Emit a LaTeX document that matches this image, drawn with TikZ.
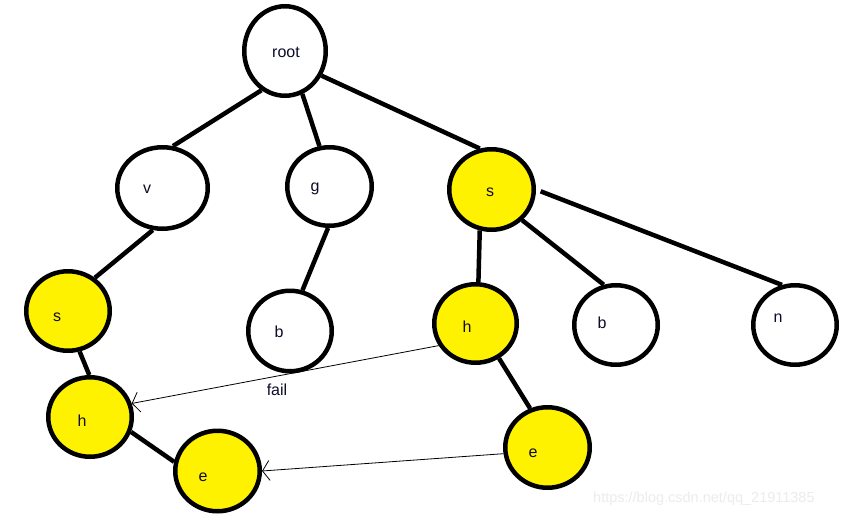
\documentclass[tikz,border=0pt]{standalone}
\usepackage{fontspec}
\setmainfont{Liberation Sans}
\usetikzlibrary{shapes.geometric,arrows.meta}
\definecolor{pyellow}{RGB}{255,242,0}
\definecolor{txt}{RGB}{12,12,40}
\definecolor{wm}{RGB}{236,236,236}
\tikzset{
  tnode/.style={ellipse,draw=black,line width=4.5pt,inner sep=0pt,fill=white},
  hit/.style={fill=pyellow},
  lbl/.style={inner sep=0pt,text=txt,font=\fontsize{16}{18}\selectfont},
  edge/.style={line width=4.5pt,line cap=butt},
  failarrow/.style={line width=0.8pt,-{Straight Barb[length=7pt,width=20pt,line width=0.8pt]}}
}
\begin{document}
\begin{tikzpicture}[x=1pt,y=-1pt]
\useasboundingbox (0,0) rectangle (846,517);
\fill[white] (0,0) rectangle (846,517);
% nodes
\node[tnode,minimum width=81.5pt,minimum height=89.5pt] (root) at (285,51) {};
\node[tnode,minimum width=90.5pt,minimum height=81.5pt] (v) at (162.5,188) {};
\node[tnode,minimum width=84.5pt,minimum height=78.5pt] (g) at (329.5,186.5) {};
\node[tnode,hit,minimum width=84.5pt,minimum height=80.5pt] (sR) at (491.5,189.5) {};
\node[tnode,hit,minimum width=83.5pt,minimum height=79.5pt] (sL) at (68,311) {};
\node[tnode,minimum width=83.5pt,minimum height=80.5pt] (b1) at (290,331) {};
\node[tnode,hit,minimum width=82.5pt,minimum height=78.5pt] (hR) at (475.5,323.5) {};
\node[tnode,minimum width=83.5pt,minimum height=79.5pt] (b2) at (616,325) {};
\node[tnode,minimum width=83.5pt,minimum height=79.5pt] (n) at (795,325) {};
\node[tnode,hit,minimum width=83.5pt,minimum height=79.5pt] (hL) at (90,417) {};
\node[tnode,hit,minimum width=84.5pt,minimum height=80.5pt] (eL) at (217.5,471) {};
\node[tnode,hit,minimum width=84.5pt,minimum height=80.5pt] (eR) at (547.5,447.5) {};
% labels
\node[lbl] (lroot) at (286,52) {root};
\node[lbl] (lv) at (147,189) {v};
\node[lbl] (lg) at (315,189) {g};
\node[lbl] (lsR) at (490,192) {s};
\node[lbl] (lsL) at (57,317) {s};
\node[lbl] (lb1) at (279,332) {b};
\node[lbl] (lhR) at (467,327) {h};
\node[lbl] (lb2) at (602,323) {b};
\node[lbl] (ln) at (778,318) {n};
\node[lbl] (lhL) at (82,421) {h};
\node[lbl] (leL) at (203,477) {e};
\node[lbl] (leR) at (533,453) {e};
\node[lbl] (lfail) at (277,390) {fail};
% tree edges
\draw[edge] (root.239.5) -- (v.76);
\draw[edge] (root.-68.6) -- (g.104);
\draw[edge] (root.-34.4) -- (sR.106);
\draw[edge] (v.257.3) -- (sL.51);
\draw[edge] (sL.-74) -- (hL.91.4);
\draw[edge] (hL.-20.9) -- (eL.168.8);
\draw[edge] (g.-92) -- (b1.73.5);
\draw[edge] (sR.-106.5) -- (hR.86.6);
\draw[edge] (sR.-45) -- (b2.107.6);
\draw[edge,shorten <=5pt] (sR.0) -- (n.108);
\draw[edge] (hR.-56.9) -- (eR.114.6);
% fail links
\draw[failarrow] (hR.211) -- (hL.18);
\draw[failarrow] (eR.188.3) -- (eL.0);
% watermark
\node[anchor=west,inner sep=0pt,text=wm,font=\fontsize{14.5}{16}\selectfont] (wmk) at (593,499) {https://blog.csdn.net/qq\_21911385};
\end{tikzpicture}
\end{document}
